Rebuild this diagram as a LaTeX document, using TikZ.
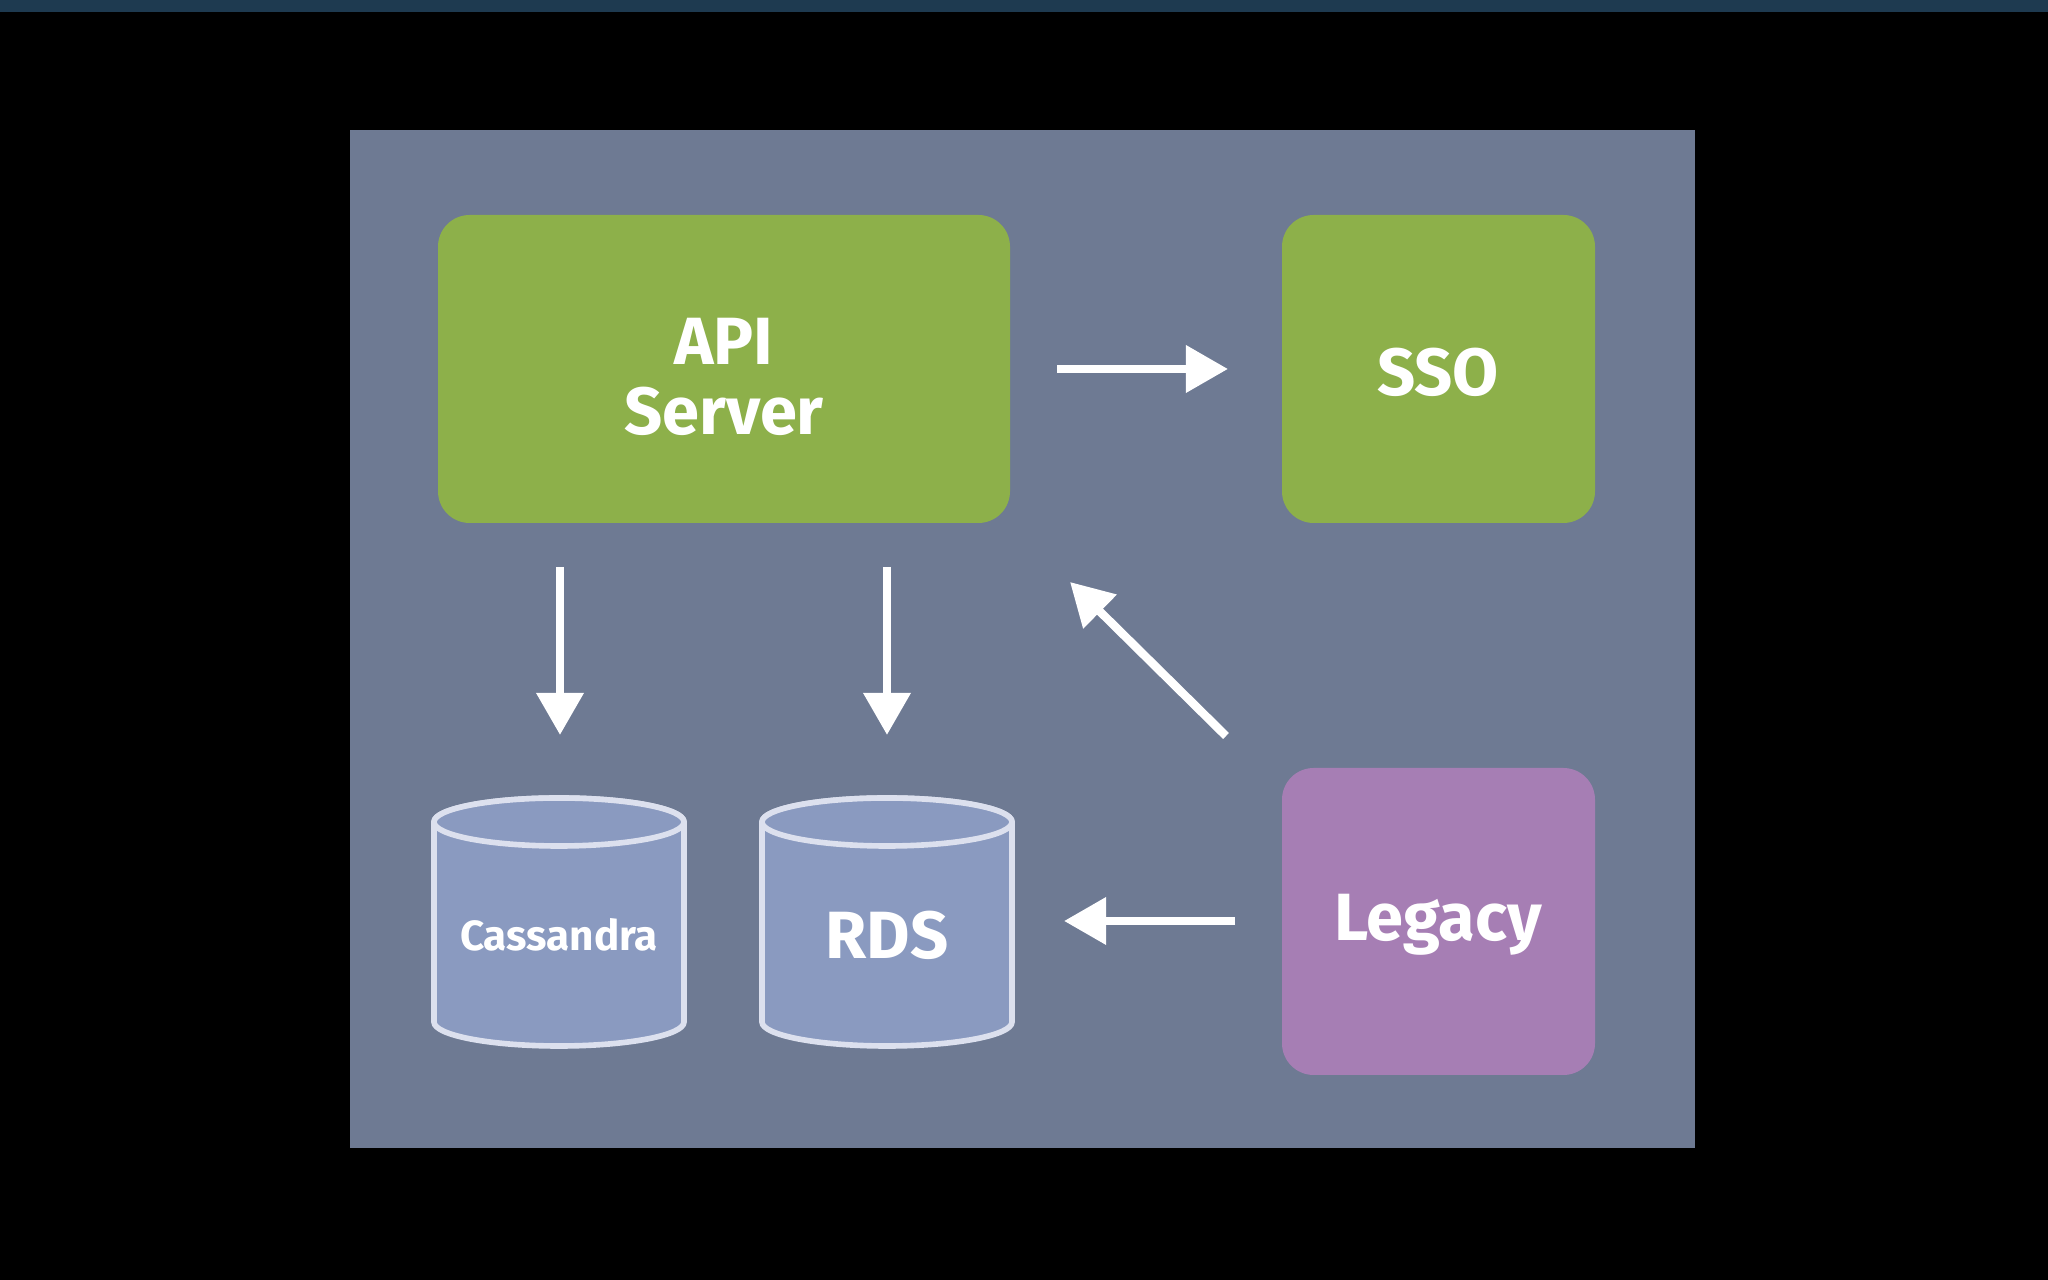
\documentclass[tikz,border=0pt]{standalone}
\usepackage{fontspec}
\setmainfont{Fira Sans}
\usetikzlibrary{arrows.meta}
\definecolor{panel}{HTML}{6E7A93}
\definecolor{topbar}{HTML}{1E3A50}
\definecolor{boxgreen}{HTML}{8DB04A}
\definecolor{boxpurple}{HTML}{A67EB4}
\definecolor{dbfill}{HTML}{8A9AC0}
\definecolor{dbline}{HTML}{DCE0EE}
\begin{document}
\begin{tikzpicture}[x=0.01cm,y=-0.01cm,
  box/.style={inner sep=0pt, text=white,
    font=\fontsize{19}{22}\selectfont\bfseries, align=center},
  dbshape/.style={draw=dbline, line width=1.6pt, fill=dbfill},
  arr/.style={white, line width=2.4pt, -{Triangle[length=12pt,width=13pt]}}]
\useasboundingbox (0,0) rectangle (2048,1280);
\fill[black] (0,0) rectangle (2048,1280);
\fill[topbar] (0,0) rectangle (2048,12);
\fill[panel] (350,130) rectangle (1695,1148);
% boxes
\fill[boxgreen, rounded corners=9pt] (438,215) rectangle (1010,523);
\node[box] (api) at (724,377) {API\\[-2pt]Server};
\fill[boxgreen, rounded corners=9pt] (1282,215) rectangle (1595,523);
\node[box] (sso) at (1438,372) {SSO};
\fill[boxpurple, rounded corners=9pt] (1282,768) rectangle (1595,1075);
\node[box] (legacy) at (1438,925) {Legacy};
% databases
\foreach \cx in {559,887} {
  \draw[dbshape] (\cx-125,822) -- (\cx-125,1022) arc[start angle=180,end angle=0,x radius=125,y radius=24]
    -- (\cx+125,822) arc[start angle=0,end angle=-180,x radius=125,y radius=24] -- cycle;
  \draw[dbshape] (\cx,822) ellipse[x radius=125,y radius=24];
}
\node[box, font=\fontsize{12}{14}\selectfont\bfseries] (cas) at (559,935) {Cassandra};
\node[box] (rds) at (887,935) {RDS};
% arrow ends
\coordinate (a1) at (1057,369); \coordinate (a2) at (1228,369);
\coordinate (c1) at (560,567);  \coordinate (c2) at (560,735);
\coordinate (r1) at (887,567);  \coordinate (r2) at (887,735);
\coordinate (l1) at (1226,736); \coordinate (l2) at (1070,582);
\coordinate (m1) at (1235,921); \coordinate (m2) at (1064,921);
\draw[arr] (a1) -- (a2);
\draw[arr] (c1) -- (c2);
\draw[arr] (r1) -- (r2);
\draw[arr] (l1) -- (l2);
\draw[arr] (m1) -- (m2);
\end{tikzpicture}
\end{document}
